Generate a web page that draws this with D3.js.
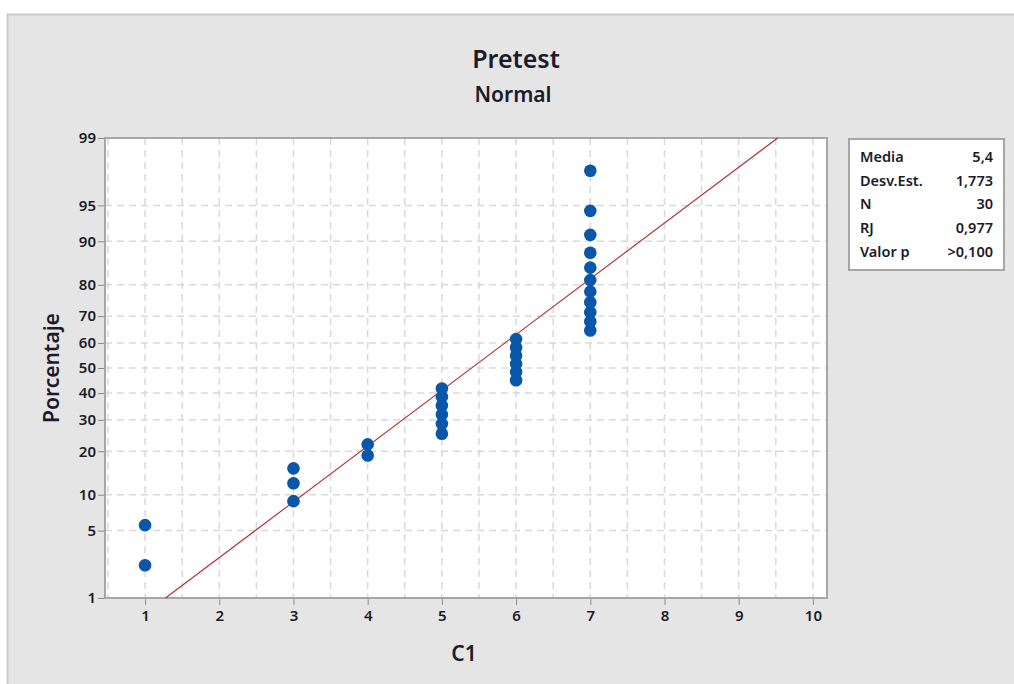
<!DOCTYPE html>
<html>
<head>
<meta charset="utf-8">
<script src="https://cdn.jsdelivr.net/npm/d3@7"></script>
<style>
  body { margin: 0; background: #fff; }
  svg text { font-family: "Noto Sans", "Open Sans", sans-serif; fill: #1b1b2a; }
</style>
</head>
<body>
<div id="chart"></div>
<script>
// Normal probability plot (Minitab style)

const width = 1014;
const height = 684;
const plot = {left: 105, right: 827, top: 138, bottom: 598};

// observations (C1) and their plotted percentages
const c1Values = [1, 1, 3, 3, 3, 4, 4, 5, 5, 5, 5, 5, 5, 6, 6, 6, 6, 6, 6,
                  7, 7, 7, 7, 7, 7, 7, 7, 7, 7, 7];
const percents = [2.3, 5.6, 8.9, 12.2, 15.5, 18.8, 22.0, 25.3, 28.6, 31.9, 35.2, 38.5, 41.8,
                  45.1, 48.4, 51.6, 54.9, 58.2, 61.5,
                  64.8, 68.1, 71.4, 74.7, 78.0, 81.3, 84.5, 87.8, 91.1, 94.4, 97.7];

// fitted normal line (endpoints at 1% and 99%)
const fitX = [1.275, 9.525];
const fitP = [1, 99];

const xTicks = [1, 2, 3, 4, 5, 6, 7, 8, 9, 10];
const xGrid = [0.5, 1, 1.5, 2, 2.5, 3, 3.5, 4, 4.5, 5, 5.5, 6, 6.5, 7, 7.5, 8, 8.5, 9, 9.5, 10];
const yTicks = [1, 5, 10, 20, 30, 40, 50, 60, 70, 80, 90, 95, 99];

const statLabels = ["Media", "Desv.Est.", "N", "RJ", "Valor p"];
const statValues = ["5,4", "1,773", "30", "0,977", ">0,100"];

const svg = d3.select("#chart")
  .append("svg")
  .attr("width", width)
  .attr("height", height);

// gray panel
svg.append("rect")
  .attr("x", 7).attr("y", 14)
  .attr("width", width).attr("height", height)
  .attr("fill", "#e5e5e5");
svg.append("path")
  .attr("d", `M7.5,${height} V14.5 H${width}`)
  .attr("fill", "none")
  .attr("stroke", "#c9c9c9")
  .attr("stroke-width", 2);

// inverse normal cdf (Acklam's approximation), used for the probability scale
function inverseNormal(p) {
  const a = [-3.969683028665376e+01, 2.209460984245205e+02, -2.759285104469687e+02,
             1.383577518672690e+02, -3.066479806614716e+01, 2.506628277459239e+00];
  const b = [-5.447609879822406e+01, 1.615858368580409e+02, -1.556989798598866e+02,
             6.680131188771972e+01, -1.328068155288572e+01];
  const c = [-7.784894002430293e-03, -3.223964580411365e-01, -2.400758277161838e+00,
             -2.549732539343734e+00, 4.374664141464968e+00, 2.938163982698783e+00];
  const d = [7.784695709041462e-03, 3.224671290700398e-01, 2.445134137142996e+00,
             3.754408661907416e+00];
  const pl = 0.02425;
  let q, r;
  if (p < pl) {
    q = Math.sqrt(-2 * Math.log(p));
    return (((((c[0]*q+c[1])*q+c[2])*q+c[3])*q+c[4])*q+c[5]) / ((((d[0]*q+d[1])*q+d[2])*q+d[3])*q+1);
  } else if (p <= 1 - pl) {
    q = p - 0.5; r = q * q;
    return (((((a[0]*r+a[1])*r+a[2])*r+a[3])*r+a[4])*r+a[5])*q / (((((b[0]*r+b[1])*r+b[2])*r+b[3])*r+b[4])*r+1);
  } else {
    q = Math.sqrt(-2 * Math.log(1 - p));
    return -(((((c[0]*q+c[1])*q+c[2])*q+c[3])*q+c[4])*q+c[5]) / ((((d[0]*q+d[1])*q+d[2])*q+d[3])*q+1);
  }
}
const probit = p => inverseNormal(p / 100);

// y on a probit scale, x linear
const zScale = d3.scaleLinear()
  .domain([probit(1), probit(99)])
  .range([plot.bottom, plot.top]);
const yScale = p => zScale(probit(p));

const xScale = d3.scaleLinear()
  .domain([0.46, 10.19])
  .range([plot.left, plot.right]);

// plot area
svg.append("rect")
  .attr("x", plot.left).attr("y", plot.top)
  .attr("width", plot.right - plot.left).attr("height", plot.bottom - plot.top)
  .attr("fill", "#fff");

// grid
svg.append("g").selectAll("line")
  .data(xGrid)
  .enter().append("line")
    .attr("x1", d => xScale(d)).attr("x2", d => xScale(d))
    .attr("y1", plot.top).attr("y2", plot.bottom)
    .attr("stroke", "#d9d9d9")
    .attr("stroke-width", 1.5)
    .attr("stroke-dasharray", "7,5");

svg.append("g").selectAll("line")
  .data(yTicks.slice(1, -1))
  .enter().append("line")
    .attr("x1", plot.left).attr("x2", plot.right)
    .attr("y1", d => yScale(d)).attr("y2", d => yScale(d))
    .attr("stroke", "#d9d9d9")
    .attr("stroke-width", 1.5)
    .attr("stroke-dasharray", "7,5");

// frame
svg.append("rect")
  .attr("x", plot.left).attr("y", plot.top)
  .attr("width", plot.right - plot.left).attr("height", plot.bottom - plot.top)
  .attr("fill", "none")
  .attr("stroke", "#a6a6a6")
  .attr("stroke-width", 2);

// axes
const xAxis = svg.append("g")
  .attr("transform", `translate(0,${plot.bottom + 1})`)
  .call(d3.axisBottom(xScale).tickValues(xTicks).tickSize(6).tickPadding(5));
xAxis.select(".domain").remove();
xAxis.selectAll("line").attr("stroke", "#8a8a8a");
xAxis.selectAll("text")
  .attr("font-size", "15px").attr("font-weight", 600)
  .style("font-family", "'Noto Sans', sans-serif").attr("fill", "#1b1b2a");

const yAxis = svg.append("g")
  .attr("transform", `translate(${plot.left - 1},0)`)
  .call(d3.axisLeft(zScale).tickValues(yTicks.map(probit)).tickFormat((d, i) => yTicks[i])
        .tickSize(6).tickPadding(2));
yAxis.select(".domain").remove();
yAxis.selectAll("line").attr("stroke", "#8a8a8a");
yAxis.selectAll("text")
  .attr("font-size", "15px").attr("font-weight", 600)
  .style("font-family", "'Noto Sans', sans-serif").attr("fill", "#1b1b2a");

// fitted line
svg.append("line")
  .attr("x1", xScale(fitX[0])).attr("y1", yScale(fitP[0]))
  .attr("x2", xScale(fitX[1])).attr("y2", yScale(fitP[1]))
  .attr("stroke", "#b22a2a")
  .attr("stroke-width", 1.1);

// points
svg.append("g").selectAll("circle")
  .data(c1Values)
  .enter().append("circle")
    .attr("cx", d => xScale(d))
    .attr("cy", (d, i) => yScale(percents[i]))
    .attr("r", 6.3)
    .attr("fill", "#0a56a8");

// titles
svg.append("text")
  .attr("x", 516).attr("y", 68)
  .attr("text-anchor", "middle")
  .attr("font-size", "25px").attr("font-weight", 600)
  .text("Pretest");
svg.append("text")
  .attr("x", 513).attr("y", 102)
  .attr("text-anchor", "middle")
  .attr("font-size", "21px").attr("font-weight", 600)
  .text("Normal");
svg.append("text")
  .attr("x", 464).attr("y", 661)
  .attr("text-anchor", "middle")
  .attr("font-size", "21px").attr("font-weight", 600)
  .text("C1");
svg.append("text")
  .attr("transform", `translate(59,${(plot.top + plot.bottom) / 2}) rotate(-90)`)
  .attr("text-anchor", "middle")
  .attr("font-size", "21px").attr("font-weight", 600)
  .text("Porcentaje");

// stats box
svg.append("rect")
  .attr("x", 849).attr("y", 139)
  .attr("width", 155).attr("height", 131)
  .attr("fill", "#fff")
  .attr("stroke", "#a6a6a6")
  .attr("stroke-width", 2);

const stats = svg.append("g");
stats.selectAll(".lab")
  .data(statLabels)
  .enter().append("text")
    .attr("class", "lab")
    .attr("x", 860)
    .attr("y", (d, i) => 162 + i * 23.7)
    .attr("font-size", "14.5px").attr("font-weight", 600)
    .text(d => d);
stats.selectAll(".val")
  .data(statValues)
  .enter().append("text")
    .attr("class", "val")
    .attr("x", 993)
    .attr("y", (d, i) => 162 + i * 23.7)
    .attr("text-anchor", "end")
    .attr("font-size", "14.5px").attr("font-weight", 600)
    .text(d => d);
</script>
</body>
</html>
